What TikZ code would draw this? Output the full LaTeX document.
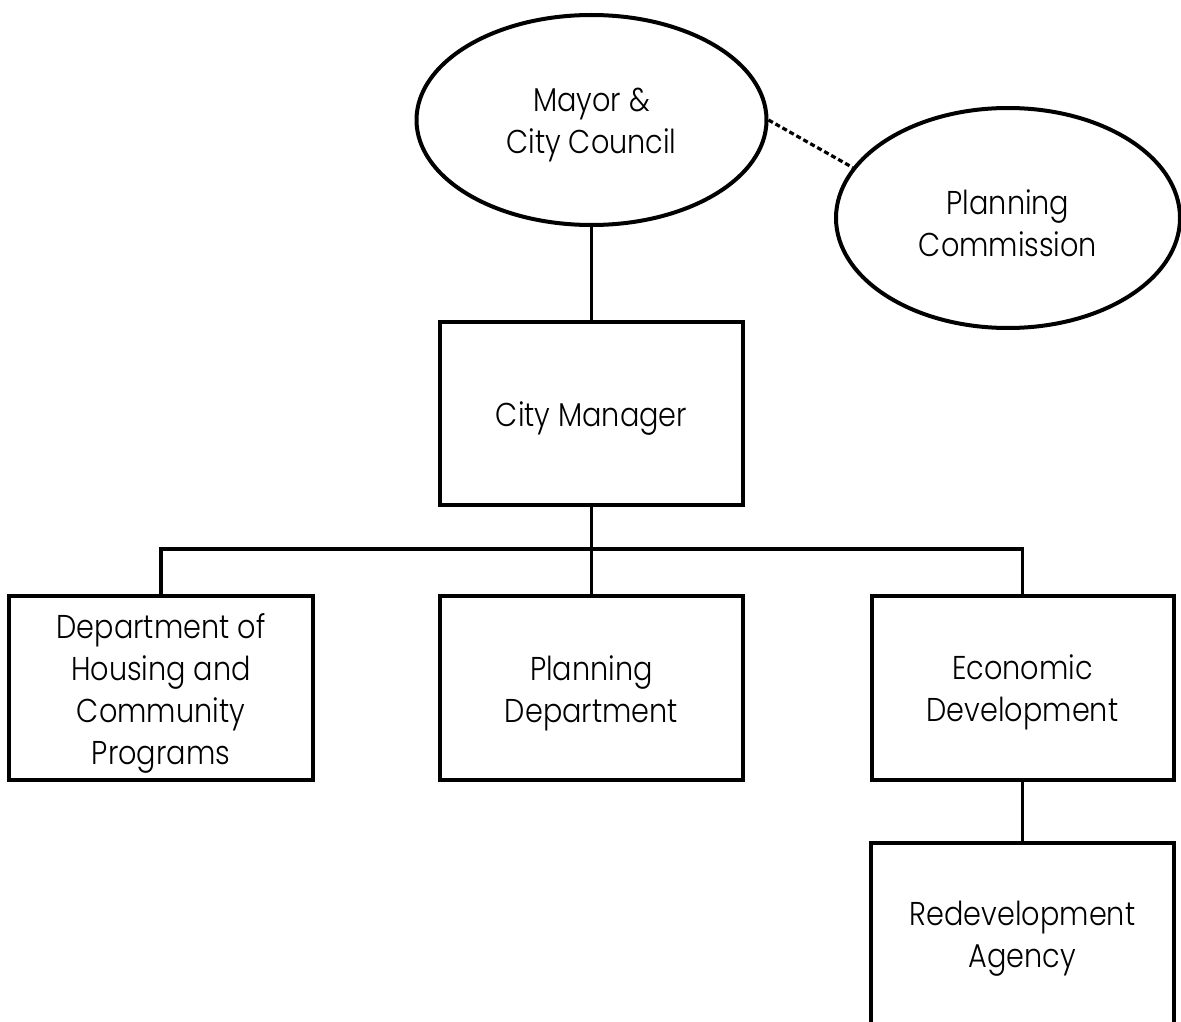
\documentclass[tikz,border=0pt]{standalone}
\usepackage{fontspec}
\setmainfont{Poppins}[UprightFont=* Light, FakeStretch=0.87]
\usetikzlibrary{shapes.geometric}
\begin{document}
\begin{tikzpicture}[x=1pt,y=-1pt,
  lbl/.style={font=\fontsize{33}{42}\selectfont, align=center, inner sep=0pt},
  oval/.style={ellipse, draw, line width=4pt, inner sep=0pt},
  orgbox/.style={rectangle, draw, line width=4pt, inner sep=0pt, minimum width=303pt, minimum height=184pt},
  link/.style={line width=3.2pt},
  dashlink/.style={line width=3.2pt, dash pattern=on 5pt off 3pt}]
\useasboundingbox (0,0) rectangle (1181,1022);
\clip (0,0) rectangle (1181,1022);
\node[oval, minimum width=350pt, minimum height=210pt] (mayor) at (591.5,120) {};
\node[oval, minimum width=344pt, minimum height=220pt] (pc) at (1008,218) {};
\node[orgbox, minimum height=183pt] (cm) at (591.5,413.5) {};
\node[orgbox, minimum width=304pt] (hous) at (161,688) {};
\node[orgbox] (pd) at (591.5,688) {};
\node[orgbox, minimum width=302pt] (ed) at (1022.5,687.5) {};
\node[orgbox, minimum height=240pt, anchor=north] (ra) at (1022.5,841) {};
\node[lbl] (mayortext) at ([yshift=-5pt]mayor.center) {Mayor \&\\City Council};
\node[lbl] (pctext) at ([yshift=-5pt]pc.center) {Planning\\Commission};
\node[lbl] (cmtext) at ([yshift=-5pt]cm.center) {City Manager};
\node[lbl] (houstext) at ([yshift=-5pt]hous.center) {Department of\\Housing and\\Community\\Programs};
\node[lbl] (pdtext) at ([yshift=-5pt]pd.center) {Planning\\Department};
\node[lbl] (edtext) at ([yshift=-5pt]ed.center) {Economic\\Development};
\node[lbl] (ratext) at (1022.5,939) {Redevelopment\\Agency};
\draw[link] (mayor.south) -- (cm.north);
\draw[dashlink] (mayor.east) -- (pc.162);
\draw[link] (cm.south) -- (pd.north);
\draw[link] (hous.north) -- ++(0,-45) -| (ed.north);
\draw[link] (ed.south) -- (ra.north);
\end{tikzpicture}
\end{document}
